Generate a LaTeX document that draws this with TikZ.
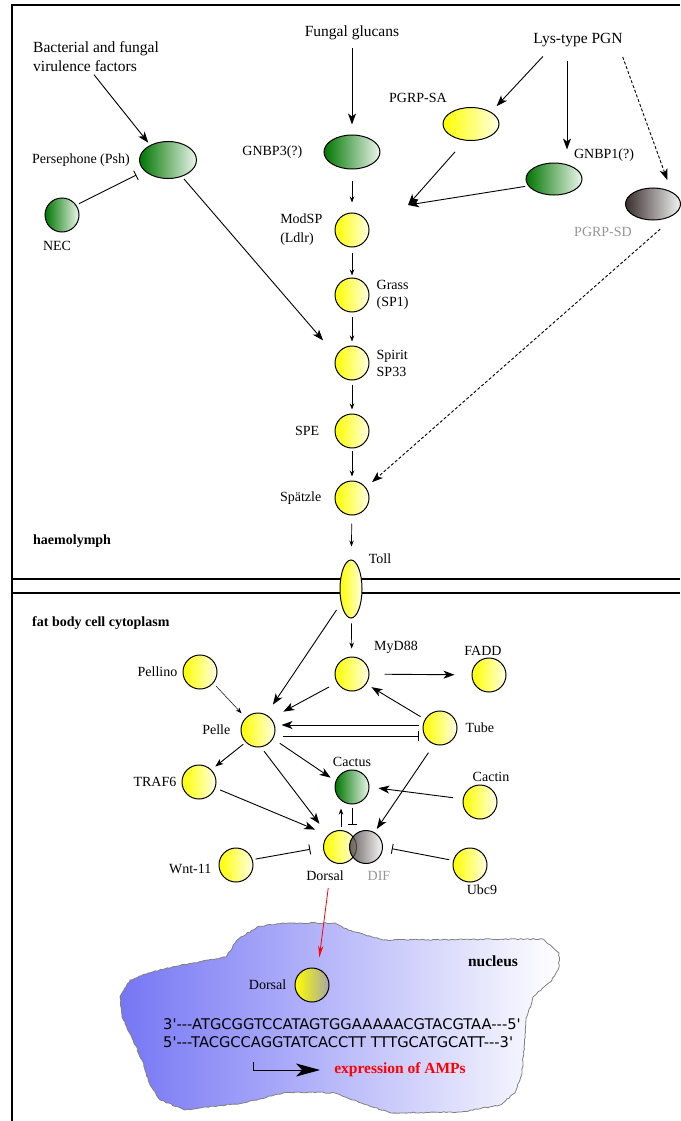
\documentclass[tikz,border=0pt]{standalone}
\usepackage{fontspec}
\setmainfont{Liberation Serif}
\newfontfamily\dnafont{DejaVu Sans}
\usepackage{tikz}
\usetikzlibrary{arrows.meta,shapes.geometric,positioning,decorations.pathmorphing}

\definecolor{yelR}{RGB}{255,255,228}
\definecolor{grnL}{RGB}{0,118,0}
\definecolor{grnR}{RGB}{236,246,236}
\definecolor{gryL}{RGB}{58,46,46}
\definecolor{gryR}{RGB}{244,244,244}
\definecolor{nucL}{RGB}{118,118,245}
\definecolor{lblgray}{RGB}{150,150,150}
\newcommand{\dnadash}{-{}-{}-}
\newcommand{\q}{\textquotesingle}

\begin{document}
\begin{tikzpicture}[x=1pt, y=-1pt,
	font=\fontsize{14}{17}\selectfont,
	mol/.style    = {draw, line width=1pt, inner sep=0pt},
	ycirc/.style  = {mol, circle, minimum size=34pt, left color=yellow, right color=yelR},
	gcirc/.style  = {mol, circle, minimum size=34pt, left color=grnL, right color=grnR},
	dcirc/.style  = {mol, circle, minimum size=33pt, left color=gryL, right color=gryR, fill opacity=0.75},
	ncirc/.style  = {mol, circle, minimum size=34pt, left color=yellow, right color=gray!70},
	yell/.style   = {mol, ellipse, minimum width=56pt, minimum height=33pt, left color=yellow, right color=yelR},
	gell/.style   = {mol, ellipse, minimum width=56pt, minimum height=34pt, left color=grnL, right color=grnR},
	sdell/.style  = {mol, ellipse, minimum width=55pt, minimum height=32pt, left color=gryL, right color=gryR},
	tollell/.style= {mol, ellipse, minimum width=22pt, minimum height=58pt, left color=yellow, right color=yelR},
	lbl/.style    = {inner sep=1pt},
	src/.style    = {inner sep=0pt, font=\fontsize{15.5}{19}\selectfont},
	region/.style = {inner sep=0pt, font=\fontsize{14}{17}\selectfont\bfseries},
	dna/.style    = {inner sep=0pt, font=\dnafont\fontsize{14.7}{18}\selectfont},
	frame/.style  = {line width=1.3pt},
	arr/.style    = {line width=0.9pt, -{Stealth[length=11pt,width=8pt,inset=3pt]}, shorten <=3pt, shorten >=3pt},
	sarr/.style   = {line width=0.7pt, -{Stealth[length=6pt,width=4.5pt]}},
	inh/.style    = {line width=0.9pt, -{Bar[width=10pt]}, shorten <=3pt},
	dsh/.style    = {arr, dash pattern=on 3pt off 2pt},
	]

	\path[use as bounding box] (0,0) rectangle (680,1121);

	% outer frame and cell membrane
	\draw[frame] (12,1121) -- (12,5) -- (680,5);
	\draw[frame] (12,579) -- (680,579);
	\draw[frame] (12,593) -- (680,593);

	% nucleus
	\pgfmathsetseed{7}
	\path[draw=gray, line width=0.8pt, left color=nucL, right color=white,
		decorate, decoration={random steps, segment length=2.5pt, amplitude=0.6pt}]
		(172,967) -- (226,957) -- (237,940) -- (257,927) -- (283,923) -- (335,923)
		-- (348,930) -- (383,940) -- (543,939) -- (559,953) -- (559,967) -- (552,980)
		-- (533,997) -- (526,1020) -- (524,1047) -- (522,1073) -- (515,1093) -- (500,1105)
		-- (461,1112) -- (391,1113) -- (361,1103) -- (335,1093) -- (313,1092) -- (283,1093)
		-- (243,1103) -- (200,1108) -- (185,1110) -- (160,1100) -- (150,1085) -- (142,1060)
		-- (133,1040) -- (122,1017) -- (120,997) -- (130,980) -- (148,973) -- cycle;

	% haemolymph: ligands and recognition proteins
	\node[src, anchor=west, align=left] (bact) at (33,57) {Bacterial and fungal\\virulence factors};
	\node[src] (glucan) at (352,33) {Fungal glucans};
	\node[src] (lys) at (578,40) {Lys-type PGN};

	\node[gell, minimum width=57pt, minimum height=37pt] (psh) at (168,160) {};
	\node[lbl, left=8pt of psh] (pshL) {Persephone (Psh)};
	\node[gcirc] (nec) at (62,215) {};
	\node[lbl, below=8pt of nec, xshift=-5pt] (necL) {NEC};

	\node[gell] (gnbp3) at (352,152) {};
	\node[lbl, left=20pt of gnbp3] (gnbp3L) {GNBP3(?)};
	\node[yell] (pgrpsa) at (471,124) {};
	\node[lbl] (pgrpsaL) at (418,98) {PGRP-SA};
	\node[gell, minimum height=32pt] (gnbp1) at (554,179) {};
	\node[lbl] (gnbp1L) at (604,155) {GNBP1(?)};
	\node[sdell] (pgrpsd) at (653,204) {};
	\node[lbl, text=lblgray] (pgrpsdL) at (603,232) {PGRP-SD};

	% protease cascade
	\node[ycirc] (modsp) at (352,230) {};
	\node[lbl, align=left, left=11pt of modsp, font=\fontsize{14}{19}\selectfont] (modspL) {ModSP\\(Ldlr)};
	\node[ycirc] (grass) at (352,295) {};
	\node[lbl, align=left, right=6pt of grass] (grassL) {Grass\\(SP1)};
	\node[ycirc] (spirit) at (352,363) {};
	\node[lbl, align=left, right=6pt of spirit] (spiritL) {Spirit\\SP33};
	\node[ycirc] (spe) at (352,431) {};
	\node[lbl, left=14pt of spe] (speL) {SPE};
	\node[ycirc] (spatzle) at (352,498) {};
	\node[lbl, left=12pt of spatzle] (spatzleL) {Spätzle};
	\node[region, anchor=west] (haemo) at (33,541) {haemolymph};

	\node[tollell] (toll) at (351,589) {};
	\node[lbl] (tollL) at (380,559) {Toll};

	% cytoplasm
	\node[region, anchor=west] (cyto) at (32,623) {fat body cell cytoplasm};
	\node[ycirc] (myd88) at (352,674) {};
	\node[lbl] (myd88L) at (396,647) {MyD88};
	\node[ycirc] (fadd) at (489,675) {};
	\node[lbl, above=1pt of fadd, xshift=-6pt] (faddL) {FADD};
	\node[ycirc] (pelle) at (258,730) {};
	\node[lbl, left=9pt of pelle] (pelleL) {Pelle};
	\node[ycirc] (tube) at (440,728) {};
	\node[lbl, right=7pt of tube] (tubeL) {Tube};
	\node[ycirc] (pellino) at (200,672) {};
	\node[lbl, left=4pt of pellino] (pellinoL) {Pellino};
	\node[ycirc] (traf6) at (199,782) {};
	\node[lbl, left=4pt of traf6] (traf6L) {TRAF6};
	\node[gcirc] (cactus) at (352,787) {};
	\node[lbl, above=2pt of cactus] (cactusL) {Cactus};
	\node[ycirc] (cactin) at (480,802) {};
	\node[lbl, above=2pt of cactin, xshift=11pt] (cactinL) {Cactin};
	\node[ycirc] (wnt11) at (236,865) {};
	\node[lbl, left=6pt of wnt11, yshift=-4pt] (wnt11L) {Wnt-11};
	\node[ycirc] (ubc9) at (470,865) {};
	\node[lbl, below=1pt of ubc9, xshift=12pt] (ubc9L) {Ubc9};
	\node[ycirc, minimum size=33pt] (dorsal) at (340,847) {};
	\node[dcirc] (dif) at (366,847) {};
	\node[lbl] (dorsalL) at (325,876) {Dorsal};
	\node[lbl, text=lblgray] (difL) at (379,876) {DIF};

	% nucleus contents
	\node[region, font=\fontsize{15.5}{18}\selectfont\bfseries] (nucL) at (493,961) {nucleus};
	\node[ncirc] (ndorsal) at (312,985) {};
	\node[lbl, left=7pt of ndorsal] (ndorsalL) {Dorsal};
	\node[dna, anchor=west] (dna1) at (163,1024) {3\q\dnadash ATGCGGTCCATAGTGGAAAAACGTACGTAA\dnadash 5\q};
	\node[dna, anchor=west] (dna2) at (163,1042) {5\q\dnadash TACGCCAGGTATCACCTT TTTGCATGCATT\dnadash 3\q};
	\node[region, text=red, font=\fontsize{15.5}{18}\selectfont\bfseries] (expr) at (400,1070) {expression of AMPs};
	\coordinate (tss) at (253,1062);
	\coordinate (conv) at (408,205);

	% recognition arrows
	\draw[arr] ([xshift=-4pt]bact.south) -- (psh.140);
	\draw[inh, shorten >=9pt] (nec.35) -- (psh.205);
	\draw[arr, shorten >=20pt] (psh.-50) -- (spirit.155);
	\draw[arr, shorten <=8pt, shorten >=10pt] (glucan.south) -- (gnbp3.north);
	\draw[arr, shorten <=2pt, shorten >=8pt] ([xshift=11pt,yshift=-8pt]lys.south west) -- (pgrpsa.north east);
	\draw[arr, shorten <=14pt, shorten >=13pt] ([xshift=-11pt]lys.south) -- ([xshift=13pt]gnbp1.north);
	\draw[dsh, shorten <=2pt, shorten >=8pt] ([xshift=44pt,yshift=-8pt]lys.south) -- ([xshift=17pt]pgrpsd.north);
	\draw[arr, shorten <=15pt, shorten >=0pt] (pgrpsa.-110) -- (conv);
	\draw[arr, shorten >=0pt] (gnbp1.195) -- (conv);
	\draw[dsh, shorten <=13pt, shorten >=8pt] ([xshift=17pt]pgrpsd.south) -- (spatzle.37);

	% cascade down to MyD88
	\foreach \a/\b/\s/\e in {gnbp3/modsp/11/10, modsp/grass/5/2, grass/spirit/4/4,
		spirit/spe/4/4, spe/spatzle/2/4, spatzle/toll/8/13, toll/myd88/5/8}
		\draw[sarr, shorten <=\s pt, shorten >=\e pt] (\a) -- (\b);

	% intracellular signalling
	\draw[arr, shorten <=15pt, shorten >=17pt] (myd88) -- (fadd);
	\draw[arr, shorten <=5pt, shorten >=6pt] (tube.150) -- (myd88.-35);
	\draw[arr, shorten <=4pt, shorten >=6pt] ([yshift=3pt]tube.west) -- ([yshift=3pt]tube.west -| pelle.east);
	\draw[inh, shorten <=7pt, shorten >=4pt] ([yshift=-6pt]pelle.east) -- ([yshift=-6pt]pelle.east -| tube.west);
	\draw[arr, shorten <=8pt, shorten >=12pt] (toll.235) -- (pelle.62);
	\draw[arr, shorten <=9pt, shorten >=14pt] (myd88.210) -- (pelle.42);
	\draw[sarr, line width=0.5pt, shorten <=4pt, shorten >=6pt] (pellino.-40) -- (pelle.135);
	\draw[arr, -{Stealth[length=8pt,width=6pt,inset=2pt]}, shorten <=3pt, shorten >=5pt] (pelle.225) -- (traf6.45);
	\draw[arr, shorten <=8pt, shorten >=6pt] (pelle.-30) -- (cactus.160);
	\draw[arr, shorten <=5pt, shorten >=14pt] (pelle.-80) -- (dorsal.135);
	\draw[arr, shorten <=5pt, shorten >=14pt] (traf6.-20) -- (dorsal.135);
	\draw[arr, shorten <=10pt, shorten >=9pt] (cactin.170) -- (cactus.east);
	\draw[arr, shorten <=10pt, shorten >=4pt] (tube.-110) -- (dif.60);
	\draw[sarr, shorten <=3pt, shorten >=4pt] ([xshift=1pt]dorsal.north) -- ([xshift=1pt]dorsal.north |- cactus.south);
	\draw[inh, -{Bar[width=9pt]}, line width=0.7pt, shorten >=5pt] (cactus.south) -- (cactus.south |- dorsal.north);
	\draw[inh, shorten >=13pt] (wnt11.18) -- (dorsal.west);
	\draw[inh, shorten <=4pt, shorten >=9pt] (ubc9.165) -- (dif.east);

	% into the nucleus
	\draw[red, line width=0.8pt, -{Stealth[length=12pt,width=5pt]}, shorten <=6pt, shorten >=10pt]
		([xshift=4pt]dorsalL.south) -- ([xshift=6pt]ndorsal.north);
	\draw[line width=1pt, -{Stealth[length=24pt,width=13pt,inset=6pt]}, shorten >=14pt] (tss) |- (expr.west);

\end{tikzpicture}
\end{document}
